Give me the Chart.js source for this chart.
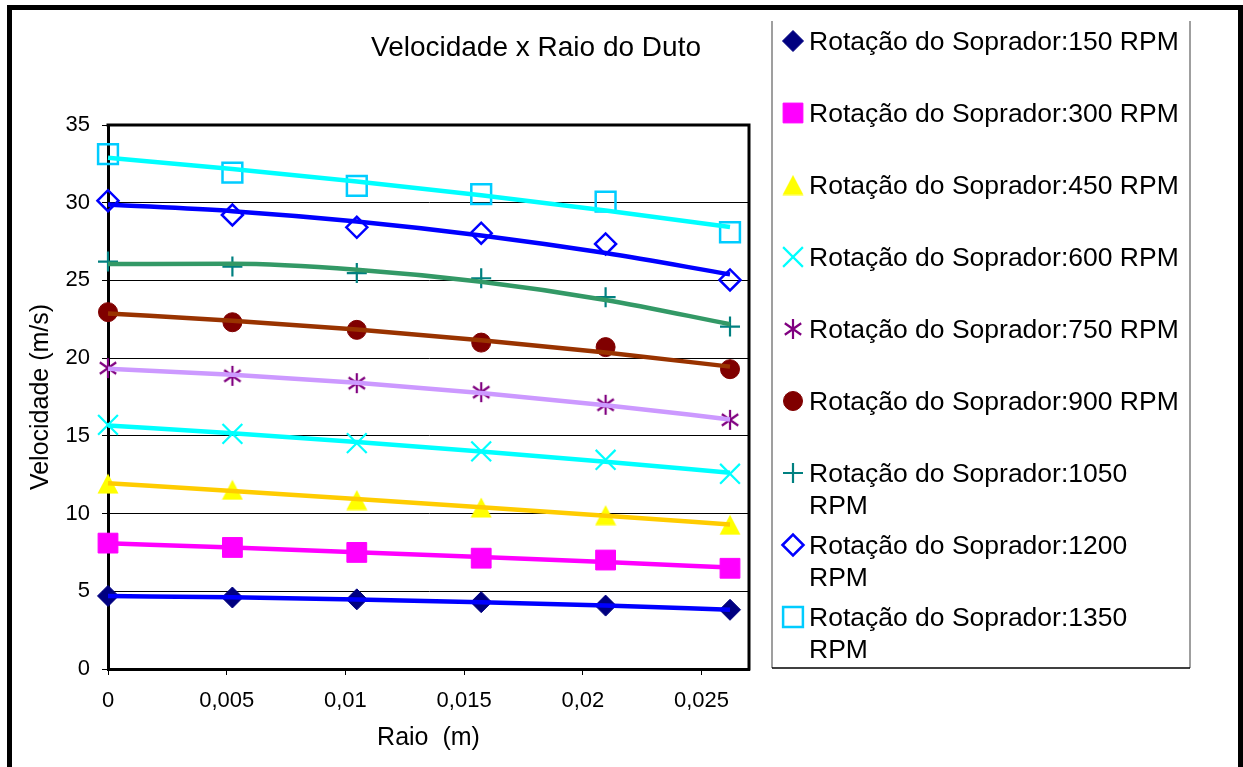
<!DOCTYPE html>
<html>
<head>
<meta charset="utf-8">
<title>Velocidade x Raio do Duto</title>
<script src="https://cdn.jsdelivr.net/npm/chart.js@4.4.0/dist/chart.umd.min.js"></script>
<style>
html, body { margin: 0; padding: 0; background: #fff; }
canvas { display: block; }
</style>
</head>
<body>
<canvas id="chart" width="1243" height="767"></canvas>
<script>
// data
const raio = [0, 0.00524, 0.01048, 0.01572, 0.02096, 0.0262];
const rpm = [150, 300, 450, 600, 750, 900, 1050, 1200, 1350];
const vel150 = [4.70, 4.60, 4.48, 4.30, 4.08, 3.81];
const vel300 = [8.10, 7.82, 7.50, 7.13, 7.01, 6.48];
const vel450 = [11.93, 11.53, 10.87, 10.39, 9.90, 9.28];
const vel600 = [15.71, 15.13, 14.53, 14.00, 13.46, 12.56];
const vel750 = [19.36, 18.86, 18.39, 17.81, 17.00, 16.03];
const vel900 = [22.96, 22.31, 21.82, 21.00, 20.71, 19.29];
const vel1050 = [26.21, 25.89, 25.47, 25.14, 23.92, 22.03];
const vel1200 = [30.13, 29.21, 28.42, 28.04, 27.35, 25.03];
const vel1350 = [33.12, 31.93, 31.08, 30.55, 30.07, 28.10];
const xTickValues = [0, 0.005, 0.01, 0.015, 0.02, 0.025];
const xTickLabels = ['0', '0,005', '0,01', '0,015', '0,02', '0,025'];
const yTickValues = [0, 5, 10, 15, 20, 25, 30, 35];
const yTickLabels = ['0', '5', '10', '15', '20', '25', '30', '35'];

const FONT = "'Liberation Sans', Arial, sans-serif";

// small canvases for the markers chart.js does not have
function triangleImg(color) {
    const c = document.createElement('canvas');
    c.width = 22; c.height = 21;
    const g = c.getContext('2d');
    g.fillStyle = color;
    g.beginPath();
    g.moveTo(11, 0.5);
    g.lineTo(21.5, 20.5);
    g.lineTo(0.5, 20.5);
    g.closePath();
    g.fill();
    return c;
}
function asteriskImg(color) {
    const c = document.createElement('canvas');
    c.width = 22; c.height = 22;
    const g = c.getContext('2d');
    g.strokeStyle = color;
    g.lineWidth = 2.2;
    g.beginPath();
    [90, 35, 145].forEach(a => {
        const r = a * Math.PI / 180;
        const dx = Math.cos(r) * 10, dy = Math.sin(r) * 10;
        g.moveTo(11 - dx, 11 - dy);
        g.lineTo(11 + dx, 11 + dy);
    });
    g.stroke();
    return c;
}

// excel style polynomial trendline (order 2), least squares
function quadFit(xs, ys) {
    const n = xs.length;
    const xm = xs[n - 1];
    let s = [0, 0, 0, 0, 0], t = [0, 0, 0];
    for (let i = 0; i < n; i++) {
        const u = xs[i] / xm;
        for (let k = 0; k < 5; k++) s[k] += Math.pow(u, k);
        for (let k = 0; k < 3; k++) t[k] += ys[i] * Math.pow(u, k);
    }
    const m = [[s[0], s[1], s[2], t[0]], [s[1], s[2], s[3], t[1]], [s[2], s[3], s[4], t[2]]];
    for (let i = 0; i < 3; i++) {
        for (let j = i + 1; j < 3; j++) {
            const f = m[j][i] / m[i][i];
            for (let k = i; k < 4; k++) m[j][k] -= f * m[i][k];
        }
    }
    const c = [0, 0, 0];
    for (let i = 2; i >= 0; i--) {
        let v = m[i][3];
        for (let k = i + 1; k < 3; k++) v -= m[i][k] * c[k];
        c[i] = v / m[i][i];
    }
    return xs.map(x => { const u = x / xm; return c[0] + c[1] * u + c[2] * u * u; });
}

const series = [
    { v: vel150, style: 'rectRot', r: 10.5, fill: '#000080', stroke: '#000080', bw: 1, line: '#0000FF' },
    { v: vel300, style: 'rect', r: 14, fill: '#FF00FF', stroke: '#FF00FF', bw: 1, line: '#FF00FF' },
    { v: vel450, style: triangleImg('#FFFF00'), r: 11, fill: '#FFFF00', stroke: '#FFFF00', bw: 0, line: '#FFCC00' },
    { v: vel600, style: 'crossRot', r: 14, fill: '#00FFFF', stroke: '#00FFFF', bw: 2.2, line: '#00FFFF' },
    { v: vel750, style: asteriskImg('#800080'), r: 10, fill: '#800080', stroke: '#800080', bw: 2, line: '#CC99FF' },
    { v: vel900, style: 'circle', r: 9.5, fill: '#800000', stroke: '#800000', bw: 1, line: '#993300' },
    { v: vel1050, style: 'cross', r: 10, fill: '#008080', stroke: '#008080', bw: 2.2, line: '#339966' },
    { v: vel1200, style: 'rectRot', r: 10.5, fill: 'rgba(0,0,0,0)', stroke: '#0000FF', bw: 2.5, line: '#0000FF' },
    { v: vel1350, style: 'rect', r: 14, fill: 'rgba(0,0,0,0)', stroke: '#00CCFF', bw: 2.5, line: '#00FFFF' }
];

const datasets = [];
series.forEach((s, i) => {
    datasets.push({
        label: 'Rotação do Soprador:' + rpm[i] + ' RPM',
        data: raio.map((x, j) => ({ x: x, y: s.v[j] })),
        showLine: false,
        pointStyle: s.style,
        pointRadius: s.r,
        pointBackgroundColor: s.fill,
        pointBorderColor: s.stroke,
        pointBorderWidth: s.bw,
        clip: false,
        order: 1
    });
});
series.forEach((s, i) => {
    const fit = quadFit(raio, s.v);
    datasets.push({
        label: 'trend' + rpm[i],
        data: raio.map((x, j) => ({ x: x, y: fit[j] })),
        showLine: true,
        borderColor: s.line,
        borderWidth: 4.5,
        pointRadius: 0,
        cubicInterpolationMode: 'monotone',
        clip: false,
        order: 0
    });
});

const framePlugin = {
    id: 'frame',
    beforeDraw(chart) {
        const ctx = chart.ctx;
        ctx.save();
        ctx.fillStyle = '#fff';
        ctx.fillRect(0, 0, chart.width, chart.height);
        ctx.restore();
    },
    beforeDatasetsDraw(chart) {
        const ctx = chart.ctx, a = chart.chartArea;
        ctx.save();
        ctx.strokeStyle = '#000';
        ctx.lineWidth = 3;
        ctx.beginPath();
        ctx.moveTo(a.left - 1.5, a.top);
        ctx.lineTo(a.right, a.top);
        ctx.lineTo(a.right, a.bottom + 1.5);
        ctx.stroke();
        ctx.restore();
    },
    afterDraw(chart) {
        const ctx = chart.ctx;
        ctx.save();
        // outer frame
        ctx.strokeStyle = '#000';
        ctx.lineWidth = 5;
        ctx.strokeRect(9.5, 7.5, 1231, 820);
        // title
        ctx.fillStyle = '#000';
        ctx.font = '28px ' + FONT;
        ctx.textAlign = 'center';
        ctx.textBaseline = 'middle';
        ctx.fillText('Velocidade x Raio do Duto', 536, 48);
        // legend
        const L = 772, T = 21, R = 1190, B = 668;
        ctx.lineWidth = 1.5;
        ctx.strokeStyle = '#808080';
        ctx.beginPath();
        ctx.moveTo(L, T); ctx.lineTo(L, B);
        ctx.moveTo(R, T); ctx.lineTo(R, B);
        ctx.stroke();
        ctx.strokeStyle = '#000';
        ctx.beginPath();
        ctx.moveTo(L, B); ctx.lineTo(R, B);
        ctx.stroke();
        ctx.font = '26.5px ' + FONT;
        ctx.textAlign = 'left';
        ctx.textBaseline = 'alphabetic';
        const maxW = R - 809 - 2;
        series.forEach((s, i) => {
            const base = 50 + 72 * i;
            ctx.save();
            ctx.fillStyle = s.fill;
            ctx.strokeStyle = s.stroke;
            ctx.lineWidth = s.bw;
            Chart.helpers.drawPoint(ctx, { pointStyle: s.style, radius: s.r, rotation: 0, borderWidth: s.bw }, 793, base - 9);
            ctx.restore();
            const words = datasets[i].label.split(' ');
            let line = '', y = base;
            words.forEach(w => {
                const test = line ? line + ' ' + w : w;
                if (line && ctx.measureText(test).width > maxW) {
                    ctx.fillText(line, 809, y);
                    line = w;
                    y += 32;
                } else {
                    line = test;
                }
            });
            ctx.fillText(line, 809, y);
        });
        ctx.restore();
    }
};

new Chart(document.getElementById('chart'), {
    type: 'scatter',
    data: { datasets: datasets },
    options: {
        responsive: false,
        animation: false,
        devicePixelRatio: 1,
        layout: { padding: { left: 12, top: 125, right: 494, bottom: 0 } },
        plugins: {
            legend: { display: false },
            title: { display: false },
            tooltip: { enabled: false }
        },
        scales: {
            x: {
                type: 'linear',
                min: 0,
                max: 0.027,
                afterBuildTicks: s => { s.ticks = xTickValues.map(v => ({ value: v })); },
                afterFit: s => { s.height = 98; },
                ticks: {
                    color: '#000',
                    font: { family: FONT, size: 22 },
                    padding: 13,
                    maxRotation: 0,
                    autoSkip: false,
                    callback: (v, i) => xTickLabels[i]
                },
                grid: { drawOnChartArea: false, color: '#000', lineWidth: 1, tickLength: 6 },
                border: { color: '#000', width: 3 },
                title: {
                    display: true,
                    text: 'Raio  (m)',
                    color: '#000',
                    font: { family: FONT, size: 25 },
                    padding: { top: 0, bottom: 14 }
                }
            },
            y: {
                min: 0,
                max: 35,
                afterBuildTicks: s => { s.ticks = yTickValues.map(v => ({ value: v })); },
                afterFit: s => { s.width = 96; },
                ticks: {
                    color: '#000',
                    font: { family: FONT, size: 22 },
                    padding: 12,
                    callback: (v, i) => yTickLabels[i]
                },
                grid: { color: '#000', lineWidth: 1, tickLength: 6, tickColor: '#000' },
                border: { color: '#000', width: 3 },
                title: {
                    display: true,
                    text: 'Velocidade (m/s)',
                    color: '#000',
                    font: { family: FONT, size: 25 },
                    padding: { top: 14, bottom: 0 }
                }
            }
        }
    },
    plugins: [framePlugin]
});
</script>
</body>
</html>
